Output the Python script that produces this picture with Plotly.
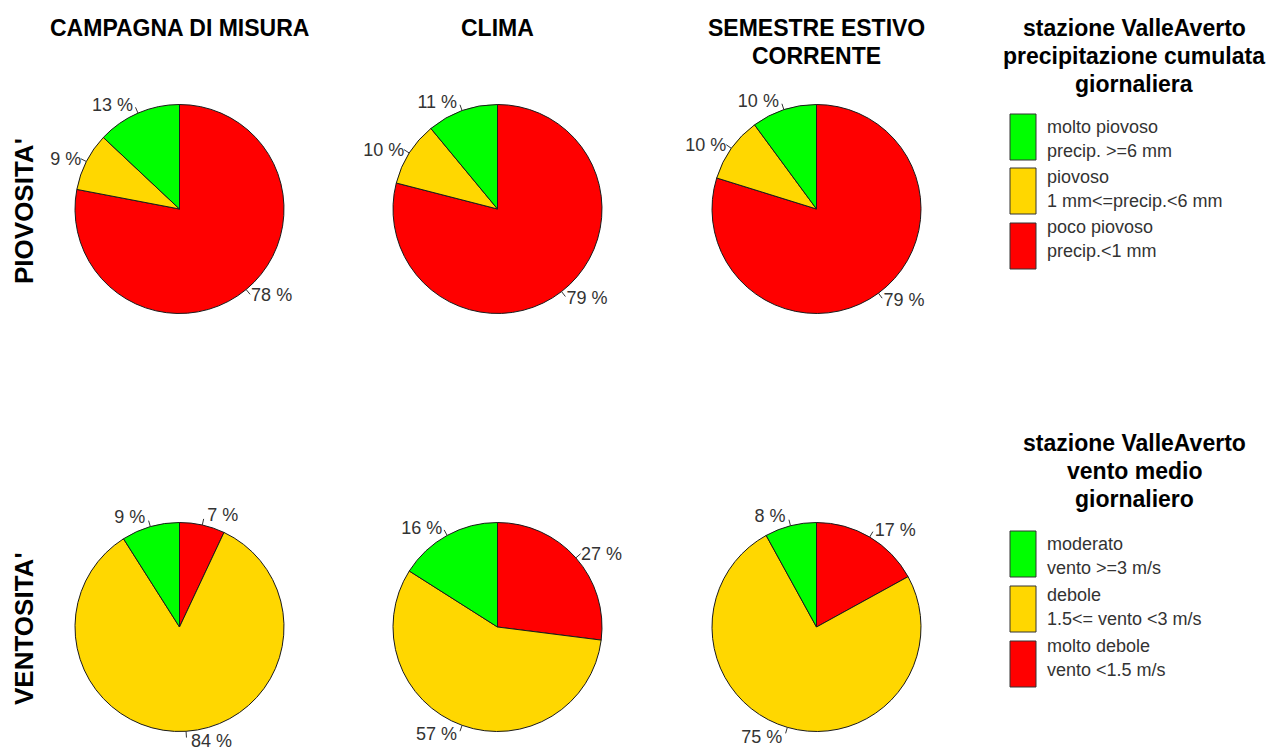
import math
import plotly.graph_objects as go

W, H = 1279, 756
SCREEN_H = 747

# Category order (clockwise from 12 o'clock) and colours
rain_classes = ["poco piovoso", "piovoso", "molto piovoso"]
wind_classes = ["molto debole", "debole", "moderato"]
class_colors = ["#FF0000", "#FFD700", "#00FF00"]

# Column and row headers
column_titles = [["CAMPAGNA DI MISURA"], ["CLIMA"], ["SEMESTRE ESTIVO", "CORRENTE"]]
row_titles = ["PIOVOSITA'", "VENTOSITA'"]

# Percent of days per class (same order as the class lists)
rain_campagna = [78, 9, 13]
rain_clima = [79, 10, 11]
rain_semestre = [79, 10, 10]
wind_campagna = [7, 84, 9]
wind_clima = [27, 57, 16]
wind_semestre = [17, 75, 8]

# Legend blocks
rain_legend_title = ["stazione ValleAverto", "precipitazione cumulata", "giornaliera"]
rain_legend_items = [
    ("molto piovoso", "precip. >=6 mm"),
    ("piovoso", "1 mm<=precip.<6 mm"),
    ("poco piovoso", "precip.<1 mm"),
]
wind_legend_title = ["stazione ValleAverto", "vento medio", "giornaliero"]
wind_legend_items = [
    ("moderato", "vento >=3 m/s"),
    ("debole", "1.5<= vento <3 m/s"),
    ("molto debole", "vento <1.5 m/s"),
]
legend_colors = ["#00FF00", "#FFD700", "#FF0000"]

FONT = "Liberation Sans, Arial, sans-serif"


def px_x(x):
    return x / W


def px_y(y):
    return 1 - y / SCREEN_H


fig = go.Figure()
annotations = []
shapes = []

# pie centres (pixels) and radius
centres_x = [179.5, 497.5, 816.5]
centres_y = [209, 627]
R = 104.5

rows = [
    (rain_classes, [rain_campagna, rain_clima, rain_semestre]),
    (wind_classes, [wind_campagna, wind_clima, wind_semestre]),
]

for r, (labels, series) in enumerate(rows):
    cy = centres_y[r]
    for c, values in enumerate(series):
        cx = centres_x[c]
        fig.add_trace(go.Pie(
            labels=labels,
            values=values,
            sort=False,
            direction="clockwise",
            rotation=0,
            marker=dict(colors=class_colors, line=dict(color="#1a1a1a", width=1)),
            textposition="outside",
            texttemplate="%{value} %",
            outsidetextfont=dict(family=FONT, size=18, color="#333333"),
            hoverinfo="none",
            showlegend=False,
            domain=dict(
                x=[px_x(cx - R), px_x(cx + R)],
                y=[px_y(cy + R), px_y(cy - R)],
            ),
        ))
        # short tick from the rim towards each slice label
        total = float(sum(values))
        acc = 0.0
        for v in values:
            mid = 2 * math.pi * (acc + v / 2.0) / total
            acc += v
            sx, sy = math.sin(mid), -math.cos(mid)
            shapes.append(dict(
                type="line", xref="paper", yref="paper",
                x0=px_x(cx + R * sx), y0=px_y(cy + R * sy),
                x1=px_x(cx + 1.06 * R * sx), y1=px_y(cy + 1.06 * R * sy),
                line=dict(color="#333333", width=1),
            ))


def text_line(text, x, y, size, bold=False, anchor="center", color="black"):
    annotations.append(dict(
        text=("<b>%s</b>" % text) if bold else text,
        x=px_x(x), y=px_y(y), xref="paper", yref="paper",
        xanchor=anchor, yanchor="middle", showarrow=False,
        font=dict(family=FONT, size=size, color=color),
    ))


# column headers
for c, lines in enumerate(column_titles):
    for i, t in enumerate(lines):
        text_line(t, centres_x[c], 28 + 28 * i, 23, bold=True)

# row headers
for r, t in enumerate(row_titles):
    annotations.append(dict(
        text="<b>%s</b>" % t, x=px_x(24), y=px_y(centres_y[r] + 2), xref="paper", yref="paper",
        xanchor="center", yanchor="middle", showarrow=False, textangle=-90,
        font=dict(family=FONT, size=26, color="black"),
    ))


def add_legend(title_lines, items, title_y, box_tops, text_ys):
    for i, t in enumerate(title_lines):
        text_line(t, 1134, title_y + 28 * i, 23, bold=True)
    for (l1, l2), col, top, ty in zip(items, legend_colors, box_tops, text_ys):
        shapes.append(dict(
            type="rect", xref="paper", yref="paper",
            x0=px_x(1010), x1=px_x(1036), y0=px_y(top + 46), y1=px_y(top),
            fillcolor=col, line=dict(color="#333333", width=1),
        ))
        text_line(l1, 1045, ty, 18, anchor="left", color="#333333")
        text_line(l2, 1045, ty + 24, 18, anchor="left", color="#333333")


add_legend(rain_legend_title, rain_legend_items, 28, [114, 168, 223], [127, 177, 227])
add_legend(wind_legend_title, wind_legend_items, 443, [531, 586, 641], [544, 595, 646])

fig.update_layout(
    width=W, height=H,
    margin=dict(l=0, r=0, t=0, b=0),
    paper_bgcolor="white", plot_bgcolor="white",
    showlegend=False,
    annotations=annotations,
    shapes=shapes,
)

fig.write_html("out.html")
